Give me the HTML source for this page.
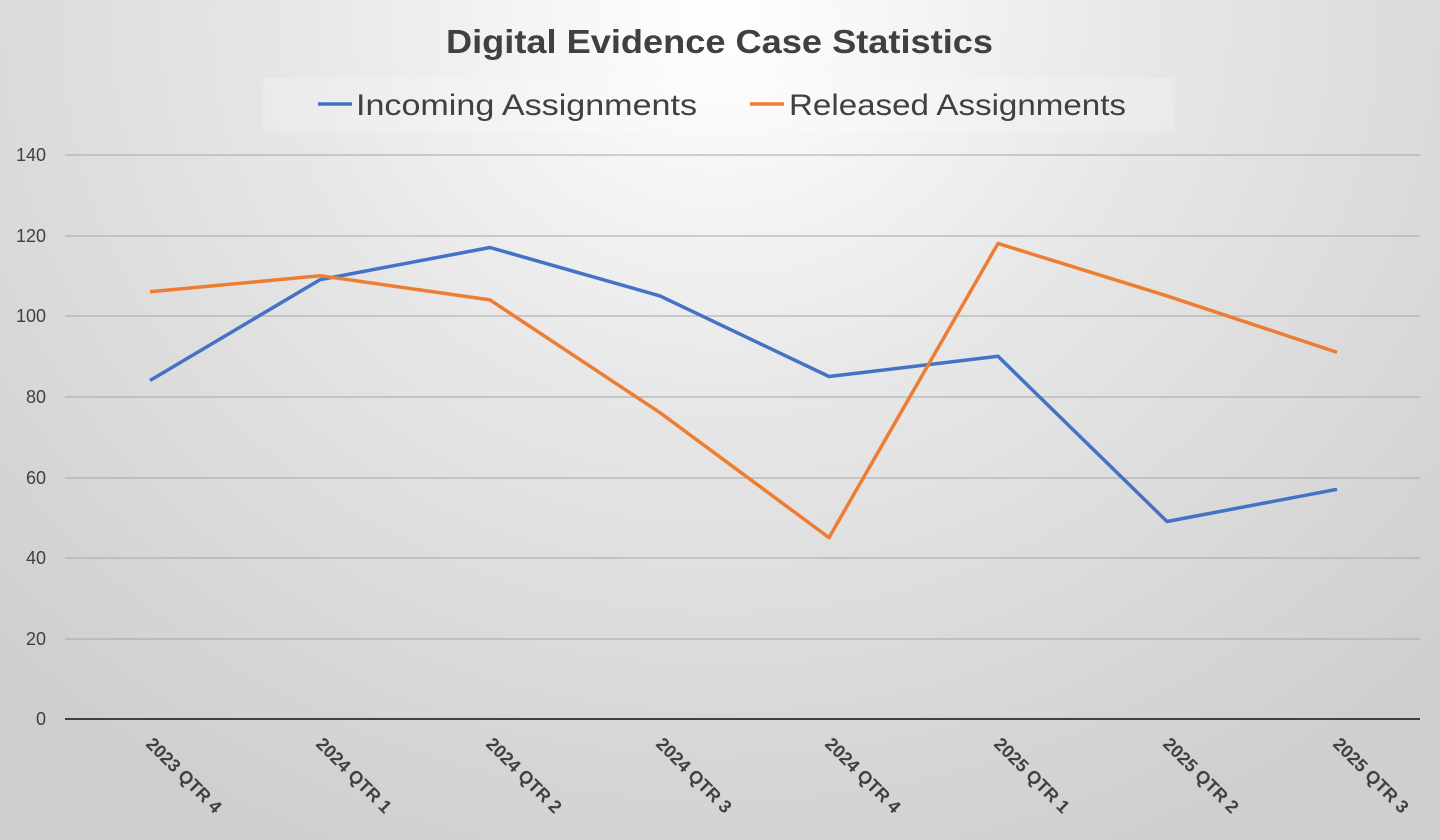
<!DOCTYPE html>
<html><head><style>
html,body{margin:0;padding:0;width:1440px;height:840px;overflow:hidden;}
body{background:radial-gradient(ellipse 1000px 900px at 720px 20px,#ffffff 0%,#e6e6e6 45%,#cfcfcf 100%);font-family:"Liberation Sans",sans-serif;}
</style></head><body>
<svg width="1440" height="840" xmlns="http://www.w3.org/2000/svg" style="position:absolute;left:0;top:0">
<rect x="263" y="78" width="912" height="54" fill="#ffffff" opacity="0.2"/>
<text x="446" y="53" textLength="547" lengthAdjust="spacingAndGlyphs" font-family="Liberation Sans, sans-serif" font-weight="bold" font-size="33" fill="#404040">Digital Evidence Case Statistics</text>
<line x1="318" y1="104" x2="352" y2="104" stroke="#4472C4" stroke-width="3.5"/>
<text x="356" y="115" textLength="341" lengthAdjust="spacingAndGlyphs" font-family="Liberation Sans, sans-serif" font-size="30" fill="#404040">Incoming Assignments</text>
<line x1="750" y1="104" x2="784" y2="104" stroke="#ED7D31" stroke-width="3.5"/>
<text x="789" y="115" textLength="337" lengthAdjust="spacingAndGlyphs" font-family="Liberation Sans, sans-serif" font-size="30" fill="#404040">Released Assignments</text>
<g stroke="#a6a6a6" stroke-width="1">
<line x1="65" y1="155" x2="1420" y2="155"/>
<line x1="65" y1="236" x2="1420" y2="236"/>
<line x1="65" y1="316" x2="1420" y2="316"/>
<line x1="65" y1="397" x2="1420" y2="397"/>
<line x1="65" y1="478" x2="1420" y2="478"/>
<line x1="65" y1="558" x2="1420" y2="558"/>
<line x1="65" y1="639" x2="1420" y2="639"/>
</g>
<line x1="65" y1="719" x2="1420" y2="719" stroke="#404040" stroke-width="2"/>
<g font-family="Liberation Sans, sans-serif" font-size="18" fill="#404040" text-anchor="end">
<text x="46" y="161">140</text><text x="46" y="242">120</text><text x="46" y="322">100</text>
<text x="46" y="403">80</text><text x="46" y="484">60</text><text x="46" y="564">40</text>
<text x="46" y="645">20</text><text x="46" y="725">0</text>
</g>
<g font-family="Liberation Sans, sans-serif" font-size="18" font-weight="bold" fill="#404040">
<text transform="translate(145,745) rotate(45)">2023 QTR 4</text>
<text transform="translate(315,745) rotate(45)">2024 QTR 1</text>
<text transform="translate(485,745) rotate(45)">2024 QTR 2</text>
<text transform="translate(655,745) rotate(45)">2024 QTR 3</text>
<text transform="translate(824,745) rotate(45)">2024 QTR 4</text>
<text transform="translate(993,745) rotate(45)">2025 QTR 1</text>
<text transform="translate(1162,745) rotate(45)">2025 QTR 2</text>
<text transform="translate(1332,745) rotate(45)">2025 QTR 3</text>
</g>
<polyline fill="none" stroke="#4472C4" stroke-width="3.5" stroke-linejoin="round" points="150,380.5 320,279.7 490,247.5 660,295.9 829,376.5 998,356.3 1167,521.5 1337,489.3"/>
<polyline fill="none" stroke="#ED7D31" stroke-width="3.5" stroke-linejoin="round" points="150,291.8 320,275.7 490,299.9 660,412.7 829,537.6 998,243.5 1167,295.9 1337,352.3"/>
</svg>
</body></html>
